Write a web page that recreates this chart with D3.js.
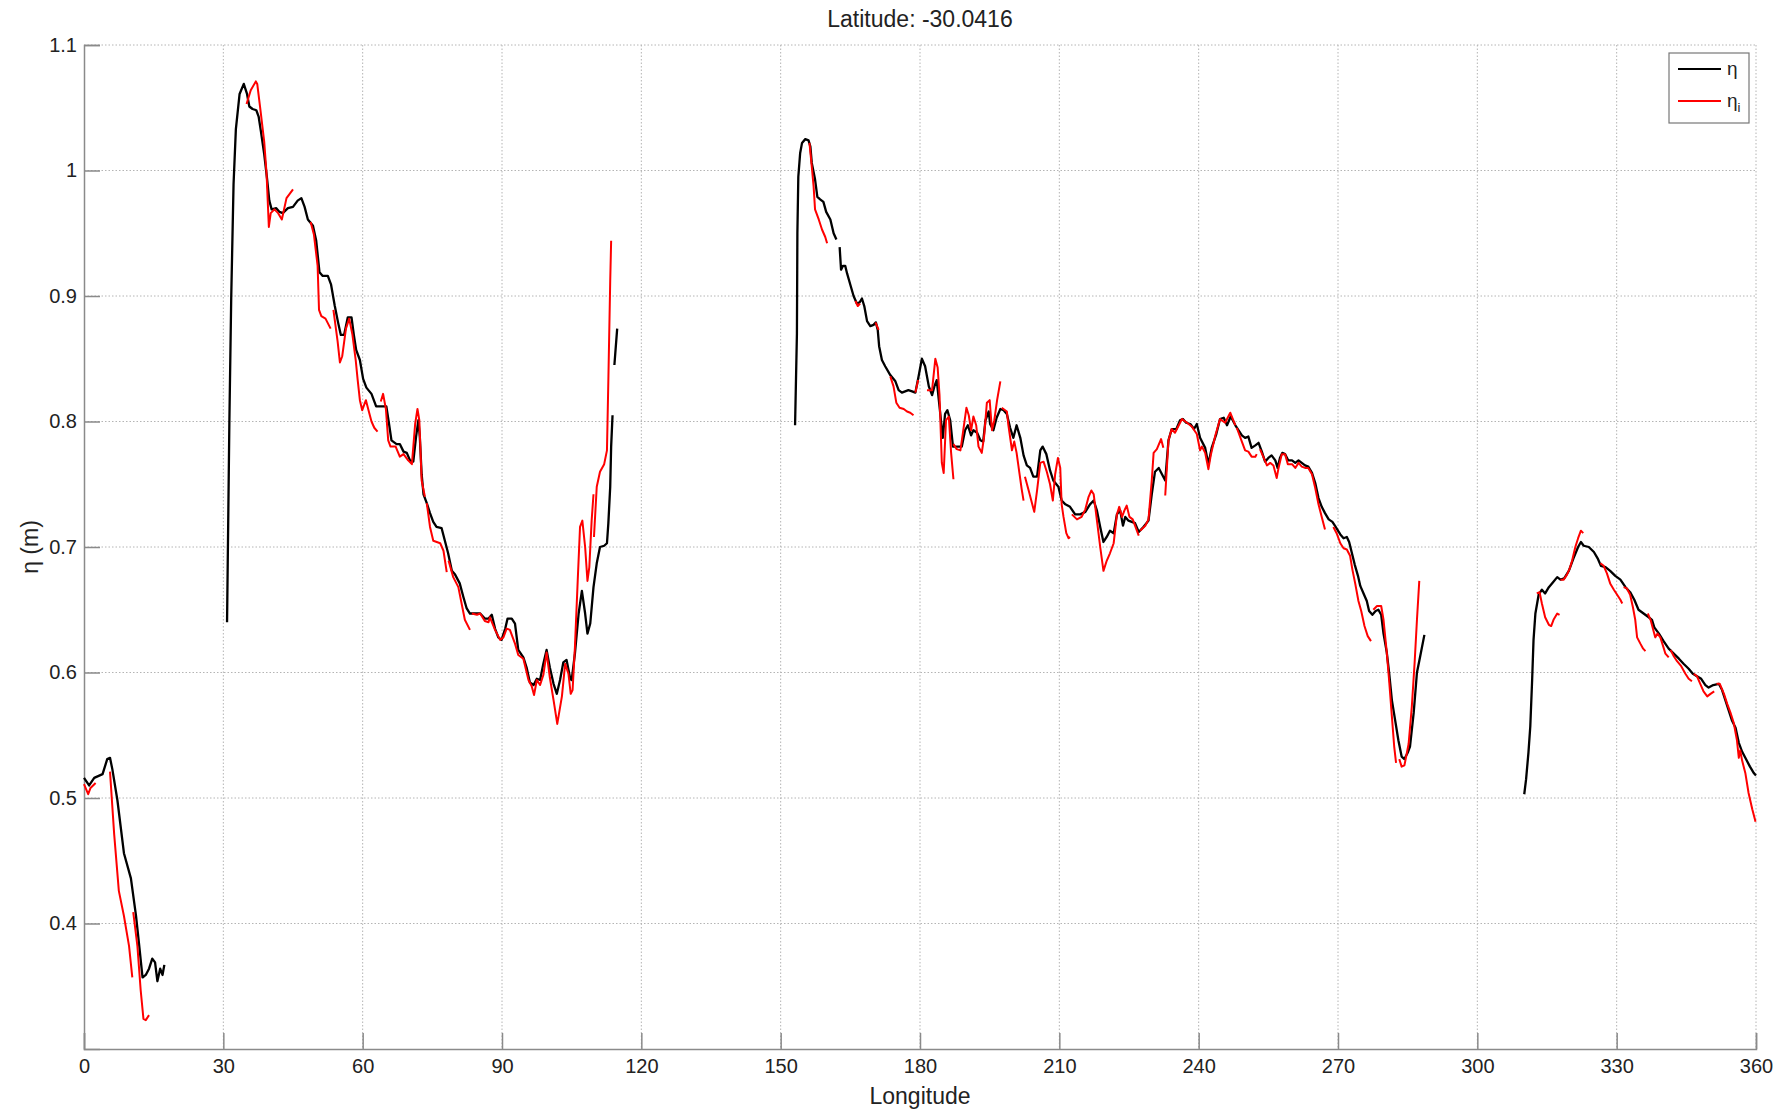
<!DOCTYPE html>
<html>
<head>
<meta charset="utf-8">
<script src="https://cdn.jsdelivr.net/npm/d3@7"></script>
<style>
  body { margin: 0; background: #fff; }
  text { font-family: "Liberation Sans", Arial, Helvetica, sans-serif; fill: #222; }
</style>
</head>
<body>
<script>
// values: [longitude, eta], null = gap in the track
var titleText = "Latitude: -30.0416";
var xTicks = [0, 30, 60, 90, 120, 150, 180, 210, 240, 270, 300, 330, 360];
var yTicks = [0.4, 0.5, 0.6, 0.7, 0.8, 0.9, 1.0, 1.1];
var legendLabels = [["η", ""], ["η", "i"]];

var eta = [
  [0,0.516],[1.1,0.510],[2.2,0.516],[4.0,0.519],[5.0,0.531],[5.6,0.532],[6.1,0.523],[7.2,0.498],[8.6,0.456],
  [10.1,0.436],[11.2,0.406],[11.9,0.382],[12.6,0.357],[13.3,0.359],[14.0,0.364],[14.7,0.372],[15.3,0.369],
  [15.8,0.354],[16.4,0.364],[16.9,0.359],[17.3,0.367],
  null,
  [30.8,0.640],[31.3,0.800],[31.7,0.899],[32.2,0.989],[32.7,1.033],[33.5,1.061],[34.4,1.069],[35.1,1.061],
  [35.6,1.051],[36.3,1.049],[37.1,1.048],[37.6,1.043],[38.1,1.031],[38.8,1.013],[39.4,0.994],[39.9,0.976],
  [40.4,0.969],[41.4,0.970],[42.1,0.967],[42.8,0.966],[43.9,0.970],[45.0,0.971],[46.0,0.976],[46.8,0.978],
  [47.5,0.971],[48.2,0.961],[49.3,0.956],[50.0,0.944],[50.7,0.919],[51.4,0.916],[52.5,0.916],[53.2,0.909],
  [54.0,0.892],[54.7,0.879],[55.3,0.869],[56.0,0.869],[56.8,0.883],[57.6,0.883],[58.1,0.869],[58.6,0.857],
  [59.4,0.849],[60.1,0.834],[60.8,0.827],[61.9,0.822],[62.9,0.812],[64.4,0.812],[65.1,0.812],[65.6,0.800],
  [66.2,0.785],[67.3,0.782],[68.0,0.782],[68.8,0.776],[69.5,0.775],[70.2,0.769],[70.9,0.768],[71.5,0.788],
  [72.0,0.801],[72.3,0.788],[72.7,0.758],[73.1,0.742],[73.8,0.735],[74.5,0.727],[75.2,0.720],[75.9,0.716],
  [77.0,0.715],[77.7,0.705],[78.4,0.695],[79.2,0.681],[79.9,0.678],[80.9,0.671],[81.7,0.660],[82.4,0.651],
  [83.1,0.647],[84.2,0.647],[85.3,0.647],[86.3,0.643],[87.1,0.643],[87.8,0.646],[88.5,0.635],[89.2,0.628],
  [89.9,0.626],[90.7,0.635],[91.2,0.643],[92.1,0.643],[92.8,0.639],[93.5,0.618],[94.6,0.612],[95.3,0.604],
  [96.0,0.592],[96.8,0.590],[97.5,0.595],[98.2,0.594],[98.9,0.607],[99.6,0.618],[100.3,0.604],[101.1,0.591],
  [101.8,0.583],[102.5,0.594],[103.2,0.608],[103.9,0.610],[104.7,0.595],[105.0,0.594],[105.7,0.615],
  [106.5,0.647],[107.2,0.665],[107.9,0.647],[108.4,0.631],[109.0,0.639],[109.7,0.668],[110.4,0.687],
  [111.1,0.700],[112.0,0.701],[112.6,0.703],[112.9,0.719],[113.3,0.748],[113.5,0.780],[113.8,0.805],
  null,
  [114.2,0.845],[114.8,0.874],
  null,
  [153.1,0.797],[153.5,0.870],[153.6,0.950],[153.8,0.995],[154.2,1.014],[154.6,1.022],[155.3,1.025],
  [156.0,1.024],[156.4,1.019],[156.7,1.006],[157.4,0.993],[157.9,0.979],[158.5,0.977],[159.2,0.975],
  [159.8,0.967],[160.7,0.961],[161.4,0.950],[162.0,0.945],
  null,
  [162.7,0.939],[163.0,0.921],[163.4,0.924],[163.9,0.924],[164.3,0.918],[165.0,0.909],[165.7,0.900],
  [166.4,0.894],[167.0,0.895],[167.5,0.898],[168.0,0.892],[168.6,0.880],[169.3,0.876],[170.0,0.877],
  [170.5,0.879],[170.9,0.873],[171.2,0.860],[171.8,0.849],[172.5,0.844],[173.6,0.837],[174.7,0.832],
  [175.4,0.825],[176.1,0.823],[176.8,0.824],[177.5,0.825],[178.3,0.824],[179.0,0.823],[179.7,0.836],
  [180.4,0.850],[181.1,0.844],[181.9,0.828],[182.6,0.821],[183.1,0.828],[183.6,0.833],[184.2,0.812],
  [184.9,0.787],[185.4,0.806],[185.9,0.809],[186.5,0.801],[187.1,0.780],[187.9,0.780],[189.0,0.780],
  [189.7,0.793],[190.3,0.797],[191.0,0.789],[191.5,0.793],[192.3,0.791],[193.0,0.785],[193.6,0.784],
  [194.1,0.801],[194.8,0.808],[195.1,0.798],[195.8,0.793],[196.5,0.803],[197.3,0.810],[198.0,0.809],
  [198.7,0.806],[199.4,0.795],[200.1,0.787],[200.8,0.797],[201.6,0.787],[202.3,0.773],[203.0,0.765],
  [203.7,0.763],[204.4,0.756],[205.2,0.756],[205.9,0.777],[206.4,0.780],[207.2,0.774],[208.0,0.761],
  [208.7,0.753],[209.8,0.748],[210.5,0.737],[211.3,0.734],[212.3,0.732],[213.4,0.726],[214.5,0.726],
  [215.6,0.728],[216.6,0.734],[217.4,0.737],[218.1,0.729],[218.8,0.716],[219.5,0.704],[220.2,0.708],
  [220.9,0.713],[221.7,0.711],[222.4,0.726],[223.1,0.729],[223.7,0.717],[224.2,0.724],[224.9,0.721],
  [225.6,0.720],[226.3,0.719],[227.1,0.712],[228.1,0.716],[229.2,0.721],[229.9,0.742],[230.6,0.760],
  [231.4,0.763],[232.1,0.758],[232.8,0.753],[233.5,0.785],[234.2,0.794],[235.2,0.794],[236.0,0.801],
  [236.6,0.802],[237.3,0.799],[238.2,0.798],[239.0,0.794],[239.6,0.798],[240.3,0.787],[241.4,0.779],
  [242.1,0.766],[242.8,0.779],[243.8,0.790],[244.6,0.802],[245.4,0.803],[246.1,0.797],[246.9,0.804],
  [247.9,0.797],[248.6,0.793],[249.3,0.789],[250.0,0.787],[250.7,0.788],[251.4,0.779],[252.2,0.781],
  [252.9,0.783],[253.6,0.776],[254.3,0.768],[255.0,0.771],[255.7,0.773],[256.5,0.769],[257.0,0.763],
  [257.5,0.771],[258.0,0.775],[258.6,0.774],[259.3,0.769],[260.1,0.769],[260.8,0.767],[261.5,0.769],
  [262.2,0.767],[262.9,0.765],[263.6,0.764],[264.4,0.759],[265.1,0.751],[265.8,0.739],[266.5,0.732],
  [267.2,0.727],[268.0,0.722],[268.8,0.720],[269.5,0.716],[270.5,0.710],[271.2,0.707],[271.9,0.708],
  [272.4,0.704],[273.0,0.695],[273.6,0.686],[274.3,0.677],[274.8,0.669],[275.5,0.663],[276.2,0.657],
  [276.7,0.649],[277.4,0.646],[278.1,0.649],[278.7,0.650],[279.3,0.646],[279.8,0.631],[280.5,0.616],
  [281.0,0.600],[281.6,0.578],[282.3,0.562],[283.0,0.546],[283.7,0.533],[284.3,0.531],[285.0,0.536],
  [285.5,0.541],[286.3,0.568],[287.0,0.600],[287.7,0.613],[288.6,0.630],
  null,
  [310.1,0.503],[310.5,0.515],[311.0,0.536],[311.4,0.557],[311.8,0.594],[312.1,0.626],[312.5,0.647],
  [313.2,0.662],[313.9,0.666],[314.6,0.663],[315.4,0.668],[316.3,0.672],[317.2,0.676],[317.9,0.674],
  [318.7,0.675],[319.7,0.681],[320.7,0.691],[321.7,0.700],[322.3,0.704],[322.9,0.701],[324.0,0.700],
  [325.1,0.696],[325.9,0.691],[326.6,0.685],[327.6,0.684],[328.6,0.681],[329.7,0.677],[330.8,0.674],
  [331.9,0.668],[332.9,0.664],[333.8,0.658],[334.7,0.650],[335.8,0.647],[336.9,0.644],[337.6,0.642],
  [338.1,0.636],[339.1,0.631],[340.1,0.625],[341.2,0.619],[342.3,0.615],[343.4,0.611],[344.4,0.607],
  [345.5,0.603],[346.4,0.599],[347.3,0.597],[348.2,0.595],[349.1,0.590],[349.8,0.588],[350.8,0.590],
  [352.0,0.591],[352.7,0.586],[353.4,0.578],[354.1,0.570],[354.8,0.562],[355.6,0.556],[356.3,0.544],
  [357.0,0.537],[357.7,0.532],[358.7,0.525],[359.5,0.520],[360.0,0.518]
];

var etaI = [
  [0,0.511],[0.9,0.503],[1.4,0.508],[2.5,0.512],
  null,
  [5.6,0.521],[6.5,0.471],[7.5,0.426],[8.6,0.406],[9.7,0.382],[10.4,0.357],
  null,
  [10.6,0.409],[11.5,0.382],[12.2,0.347],[12.8,0.324],[13.3,0.323],[14.0,0.327],
  null,
  [35.0,1.053],[35.9,1.064],[37.0,1.071],[37.3,1.069],[38.0,1.048],[38.8,1.023],[39.3,0.998],[39.8,0.955],
  [40.2,0.966],[41.0,0.969],[41.8,0.966],[42.6,0.961],[43.6,0.978],[45.0,0.985],
  null,
  [48.8,0.959],[49.5,0.949],[50.3,0.924],[50.6,0.889],[51.1,0.884],[52.0,0.882],[53.1,0.874],
  null,
  [53.7,0.889],[54.6,0.864],[55.1,0.847],[55.6,0.852],[56.4,0.874],[57.1,0.882],[57.8,0.869],[58.5,0.849],
  [58.9,0.834],[59.4,0.817],[59.9,0.809],[60.7,0.817],[61.4,0.807],[61.9,0.800],[62.5,0.795],[63.2,0.792],
  null,
  [63.9,0.816],[64.4,0.822],[65.0,0.810],[65.5,0.785],[66.0,0.780],[67.1,0.780],[68.0,0.772],[68.8,0.774],
  [69.8,0.769],[70.6,0.766],[71.3,0.798],[71.8,0.810],[72.2,0.801],[72.7,0.753],[73.4,0.740],
  null,
  [73.8,0.735],[74.5,0.716],[75.2,0.705],[76.7,0.703],[77.4,0.697],[78.1,0.680],
  null,
  [78.5,0.689],[79.5,0.676],[80.6,0.668],[81.3,0.655],[82.0,0.642],[83.1,0.634],
  null,
  [83.5,0.647],[84.6,0.646],[85.3,0.647],[86.3,0.641],[87.1,0.640],[87.4,0.644],[88.5,0.634],[89.6,0.626],
  [90.3,0.628],[91.0,0.635],[91.7,0.634],[92.8,0.623],[93.5,0.614],[94.6,0.611],[95.7,0.594],[96.4,0.589],
  [96.9,0.582],[97.5,0.594],[98.2,0.590],[98.9,0.598],[99.6,0.616],[100.3,0.596],[101.1,0.578],[101.9,0.559],
  [102.9,0.581],[103.6,0.607],[104.3,0.599],[104.8,0.583],[105.2,0.586],[105.7,0.620],[106.3,0.673],
  [106.8,0.716],[107.3,0.721],[107.9,0.700],[108.4,0.673],[108.8,0.684],[109.3,0.721],[109.7,0.742],
  null,
  [109.8,0.708],[110.4,0.748],[111.1,0.760],[112.0,0.766],[112.6,0.777],[112.9,0.833],[113.3,0.912],[113.5,0.944],
  null,
  [156.2,1.022],[156.7,1.003],[157.1,0.987],[157.4,0.969],[158.2,0.961],[158.9,0.953],[159.6,0.947],[160.0,0.942],
  null,
  [166.1,0.896],[166.6,0.892],[167.1,0.894],
  null,
  [170.4,0.879],[171.1,0.873],
  null,
  [173.6,0.836],[174.3,0.828],[174.9,0.815],[175.6,0.811],[176.5,0.810],[177.2,0.808],[177.9,0.807],[178.6,0.805],
  null,
  [179.0,0.823],[179.6,0.833],
  null,
  [181.5,0.825],[182.6,0.825],[183.3,0.850],[183.8,0.843],[184.2,0.821],[184.7,0.767],[185.1,0.759],
  [185.6,0.801],[186.2,0.804],[186.7,0.775],[187.2,0.754],
  null,
  [187.2,0.782],[187.9,0.778],[188.7,0.777],[189.2,0.790],[190.0,0.811],[190.5,0.805],[191.0,0.793],
  [191.5,0.804],[192.1,0.797],[192.6,0.780],[193.3,0.775],[193.8,0.788],[194.4,0.815],[195.0,0.817],
  [195.5,0.793],[196.0,0.801],[196.6,0.817],[197.3,0.832],
  null,
  [197.6,0.811],[198.7,0.808],[199.0,0.798],[199.8,0.777],[200.3,0.784],[200.8,0.775],[201.4,0.759],
  [201.9,0.746],[202.3,0.737],
  null,
  [202.6,0.756],[203.4,0.745],[204.1,0.735],[204.6,0.728],[205.2,0.745],[205.9,0.767],[206.6,0.768],
  [207.3,0.760],[208.0,0.750],[208.6,0.737],[209.1,0.758],[209.7,0.771],[210.2,0.763],[210.5,0.734],
  [210.9,0.724],[211.5,0.711],[212.0,0.707],[212.3,0.708],
  null,
  [212.7,0.726],[213.8,0.722],[214.8,0.724],[215.6,0.730],[216.3,0.740],[216.9,0.745],[217.4,0.742],
  [218.1,0.721],[218.8,0.700],[219.5,0.681],[220.2,0.689],[220.9,0.695],[221.7,0.703],[222.4,0.726],
  [222.9,0.732],[223.5,0.724],[224.0,0.729],[224.5,0.733],[225.1,0.724],[225.8,0.722],[226.3,0.717],[227.1,0.709],
  null,
  [227.4,0.713],[228.5,0.717],[229.2,0.722],[229.9,0.753],[230.3,0.775],[231.0,0.778],[231.9,0.786],[232.4,0.779],
  null,
  [232.8,0.741],[233.5,0.785],[234.2,0.794],[234.9,0.791],[236.4,0.802],[237.5,0.799],[238.5,0.796],
  [239.6,0.790],[240.3,0.777],[240.7,0.780],[241.4,0.775],[242.1,0.762],[242.6,0.773],[243.6,0.789],
  [244.6,0.802],[245.7,0.799],[246.8,0.807],[247.9,0.797],
  null,
  [248.2,0.795],[249.3,0.784],[250.0,0.777],[250.7,0.776],[251.4,0.772],[252.2,0.772],[252.5,0.774],
  null,
  [253.2,0.778],[253.9,0.772],[254.7,0.765],[255.4,0.767],[256.1,0.765],[256.8,0.755],[257.2,0.763],
  [257.9,0.774],[258.6,0.774],[259.2,0.766],[260.1,0.766],[260.8,0.763],[261.5,0.767],[262.2,0.764],
  [262.9,0.763],[263.6,0.763],[264.4,0.758],[265.1,0.747],[265.8,0.734],[266.5,0.724],[267.2,0.714],
  null,
  [269.0,0.716],[269.7,0.711],[270.5,0.703],[271.2,0.699],[271.9,0.698],[272.6,0.693],[273.1,0.682],
  [273.7,0.671],[274.4,0.657],[275.0,0.649],[275.7,0.637],[276.4,0.629],[277.1,0.625],
  null,
  [277.6,0.650],[278.4,0.653],[279.3,0.653],[279.8,0.642],[280.5,0.616],[281.0,0.594],[281.6,0.565],
  [282.1,0.541],[282.5,0.528],
  null,
  [283.2,0.531],[283.7,0.525],[284.3,0.526],[285.2,0.543],[285.9,0.573],[286.5,0.608],[287.0,0.642],[287.5,0.673],
  null,
  [312.8,0.663],[313.4,0.664],[313.9,0.655],[314.6,0.644],[315.4,0.638],[315.9,0.637],[316.4,0.642],
  [317.2,0.647],[317.7,0.646],
  null,
  [317.9,0.674],[318.6,0.674],[319.3,0.678],[319.9,0.683],[320.4,0.689],[321.1,0.700],[321.7,0.707],
  [322.3,0.713],[322.8,0.711],
  null,
  [326.5,0.687],[327.2,0.685],[327.9,0.679],[328.6,0.671],[329.4,0.666],[330.1,0.662],[330.8,0.658],[331.2,0.655],
  null,
  [331.5,0.668],[332.2,0.667],[332.9,0.662],[333.5,0.652],[334.0,0.642],[334.4,0.628],[335.1,0.623],
  [335.7,0.619],[336.2,0.617],
  null,
  [336.7,0.647],[337.3,0.642],[337.8,0.635],[338.3,0.628],[338.8,0.631],[339.4,0.628],[340.0,0.621],
  [340.5,0.615],[341.2,0.612],
  null,
  [341.6,0.618],[342.3,0.613],[343.0,0.609],[343.9,0.605],[344.8,0.599],[345.5,0.595],[346.2,0.593],
  null,
  [346.6,0.599],[347.3,0.597],[348.0,0.591],[348.7,0.585],[349.5,0.581],[350.2,0.583],[351.0,0.585],
  null,
  [351.5,0.591],[352.2,0.591],[353.1,0.583],[353.8,0.575],[354.5,0.568],[355.2,0.560],[355.9,0.546],
  [356.3,0.532],[356.6,0.538],[357.0,0.530],[357.7,0.520],[358.4,0.504],[359.2,0.491],[359.9,0.481]
];

var margin = { top: 45, right: 26, bottom: 64, left: 84 };
var W = 1782, H = 1113;
var w = W - margin.left - margin.right;
var h = H - margin.top - margin.bottom;

var svg = d3.select("body").append("svg")
    .attr("width", W)
    .attr("height", H);

var g = svg.append("g")
    .attr("transform", "translate(" + margin.left + "," + margin.top + ")");

var x = d3.scaleLinear().domain([0, 360]).range([0, w]);
var y = d3.scaleLinear().domain([0.3, 1.1]).range([h, 0]);

// dotted grid
g.selectAll(".gx").data(xTicks.filter(function (d) { return d > 0; }))
    .enter().append("line")
    .attr("x1", function (d) { return x(d); }).attr("x2", function (d) { return x(d); })
    .attr("y1", 0).attr("y2", h)
    .attr("stroke", "#b4b4b4").attr("stroke-width", 1).attr("stroke-dasharray", "1.5,2");

g.selectAll(".gy").data(yTicks)
    .enter().append("line")
    .attr("x1", 0).attr("x2", w)
    .attr("y1", function (d) { return y(d); }).attr("y2", function (d) { return y(d); })
    .attr("stroke", "#b4b4b4").attr("stroke-width", 1).attr("stroke-dasharray", "1.5,2");

// axes, ticks pointing inwards
var xAxis = g.append("g")
    .attr("transform", "translate(0," + h + ")")
    .call(d3.axisBottom(x).tickValues(xTicks).tickSize(-16).tickPadding(10).tickFormat(d3.format("d")));
var yAxis = g.append("g")
    .call(d3.axisLeft(y).tickValues(yTicks).tickSize(-16).tickPadding(7)
        .tickFormat(function (d) { return String(+d.toFixed(1)); }));

[xAxis, yAxis].forEach(function (a) {
    a.select(".domain").attr("stroke", "#8a8a8a").attr("stroke-width", 1.5);
    a.selectAll(".tick line").attr("stroke", "#8a8a8a").attr("stroke-width", 1.5);
    a.selectAll(".tick text").attr("font-size", 20).attr("fill", "#222")
        .attr("font-family", "Liberation Sans, Arial, sans-serif");
});

// lines
var line = d3.line()
    .defined(function (d) { return d !== null; })
    .x(function (d) { return x(d[0]); })
    .y(function (d) { return y(d[1]); });

g.append("path").datum(eta)
    .attr("d", line)
    .attr("fill", "none").attr("stroke", "#000").attr("stroke-width", 2.3)
    .attr("stroke-linejoin", "round");

g.append("path").datum(etaI)
    .attr("d", line)
    .attr("fill", "none").attr("stroke", "#ff0000").attr("stroke-width", 2)
    .attr("stroke-linejoin", "round");

// title and axis labels
svg.append("text")
    .attr("x", margin.left + w / 2).attr("y", 27)
    .attr("text-anchor", "middle").attr("font-size", 23)
    .text(titleText);

svg.append("text")
    .attr("x", margin.left + w / 2).attr("y", 1104)
    .attr("text-anchor", "middle").attr("font-size", 23)
    .text("Longitude");

svg.append("text")
    .attr("transform", "translate(38," + (margin.top + h / 2) + ") rotate(-90)")
    .attr("text-anchor", "middle").attr("font-size", 23)
    .text("η (m)");

// legend
var leg = svg.append("g").attr("transform", "translate(1669,53)");
leg.append("rect")
    .attr("width", 80).attr("height", 70)
    .attr("fill", "#fff").attr("stroke", "#777").attr("stroke-width", 1.2);

var legColors = ["#000", "#ff0000"];
legendLabels.forEach(function (lab, i) {
    var yy = 16 + i * 32;
    leg.append("line")
        .attr("x1", 9).attr("x2", 52).attr("y1", yy).attr("y2", yy)
        .attr("stroke", legColors[i]).attr("stroke-width", 2.2);
    var t = leg.append("text")
        .attr("x", 58).attr("y", yy + 6).attr("font-size", 19);
    t.append("tspan").text(lab[0]);
    if (lab[1]) {
        t.append("tspan").attr("dy", 5).attr("font-size", 13).text(lab[1]);
    }
});
</script>
</body>
</html>
